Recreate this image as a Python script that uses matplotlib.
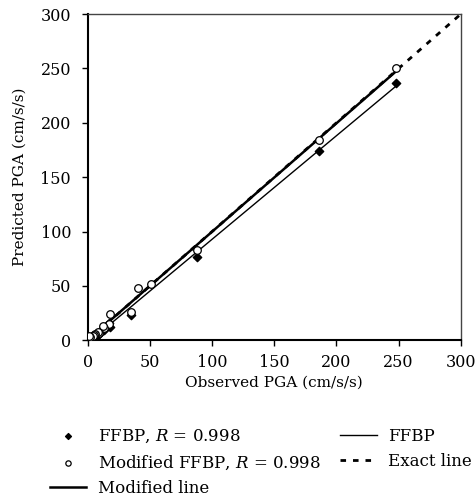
import matplotlib.pyplot as plt
import numpy as np

# --- dados ---
obs_ffbp = [248, 186, 88, 35, 18, 17, 13, 12, 9, 8, 6, 5, 4, 3, 2]
pred_ffbp = [237, 174, 77, 23, 12, 16, 9, 11, 6, 5, 4, 5, 3, 3, 2]

obs_mod = [248, 186, 88, 51, 40, 35, 18, 17, 13, 12, 9, 8, 6, 5, 4, 2, 1]
pred_mod = [250, 184, 83, 52, 48, 26, 24, 15, 11, 13, 7, 8, 6, 5, 4, 3, 4]

plt.rcParams['font.family'] = ['DejaVu Serif']
plt.rcParams['mathtext.fontset'] = 'dejavuserif'

fig = plt.figure(figsize=(4.77, 5.04), dpi=100)
ax = fig.add_axes([0.184, 0.325, 0.782, 0.647])

# linha exata
ax.plot([0, 300], [0, 300], color='black', linestyle=(0, (2.0, 2.5)), lw=2.0,
        label='Exact line', zorder=1)

# ajustes lineares
xf = np.array([min(obs_ffbp), max(obs_ffbp)])
a, b = np.polyfit(obs_ffbp, pred_ffbp, 1)
l_ffbp, = ax.plot(xf, a * xf + b, color='black', lw=1.0, label='FFBP', zorder=2)

xm = np.array([min(obs_mod), max(obs_mod)])
c, d = np.polyfit(obs_mod, pred_mod, 1)
l_mod, = ax.plot(xm, c * xm + d, color='black', lw=1.8, label='Modified line', zorder=2)

s1 = ax.scatter(obs_ffbp, pred_ffbp, marker='D', s=18, color='black',
                label='FFBP, $R$ = 0.998', zorder=3)
s2 = ax.scatter(obs_mod, pred_mod, marker='o', s=30, facecolors='white',
                edgecolors='black', linewidths=0.9,
                label='Modified FFBP, $R$ = 0.998', zorder=4)

ax.set_xlim(0, 300)
ax.set_ylim(0, 300)
ax.set_xticks(range(0, 301, 50))
ax.set_yticks(range(0, 301, 50))
ax.tick_params(direction='out', length=4, width=1, labelsize=11.5)
ax.tick_params(axis='y', pad=8)
ax.tick_params(axis='x', pad=6)
ax.spines['left'].set_linewidth(1.5)
ax.spines['bottom'].set_linewidth(1.5)
for s in ['top', 'right']:
    ax.spines[s].set_linewidth(1.0)
    ax.spines[s].set_color('#444444')

ax.set_xlabel('Observed PGA (cm/s/s)', fontsize=11, labelpad=3)
ax.set_ylabel('Predicted PGA (cm/s/s)', fontsize=11, labelpad=10)

handles = [s1, s2, l_mod, l_ffbp, ax.lines[0]]
labels = [h.get_label() for h in handles]
fig.legend(handles, labels, loc='upper left', bbox_to_anchor=(0.09, 0.165),
           ncol=2, frameon=False, fontsize=12, handlelength=2.2,
           handletextpad=0.7, columnspacing=1.15, labelspacing=0.5,
           markerscale=0.7, borderaxespad=0.0)

plt.savefig('out.png', dpi=100)
